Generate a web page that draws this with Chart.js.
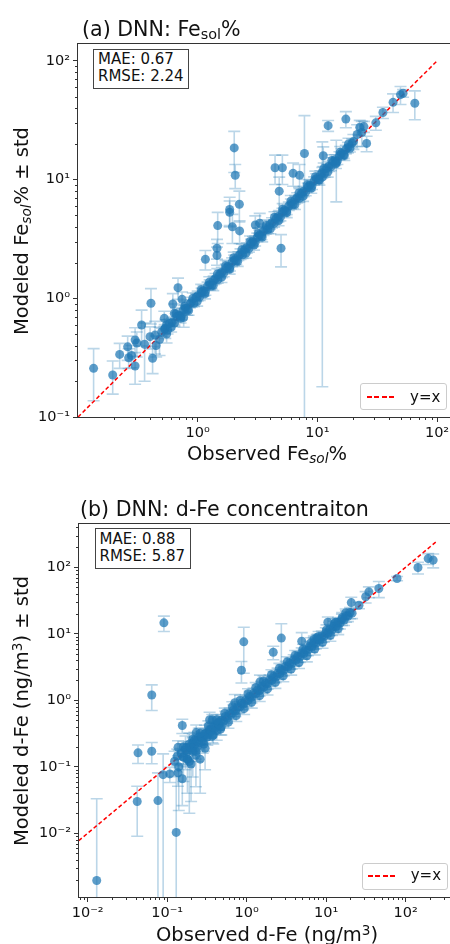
<!DOCTYPE html>
<html>
<head>
<meta charset="utf-8">
<script src="https://cdn.jsdelivr.net/npm/chart.js@4"></script>
<style>
  html, body { margin: 0; padding: 0; width: 450px; height: 944px; overflow: hidden; background: #fff; }
  body { position: relative; font-family: "DejaVu Sans", sans-serif; color: #111; }
  canvas { position: absolute; left: 0; }
  .txt { position: absolute; white-space: nowrap; line-height: 1; }
  .title { font-size: 20.6px; }
  .axis { font-size: 19.5px; }
  .ylab { transform: translate(-50%, -50%) rotate(-90deg); }
  .xlab { transform: translateX(-50%); }
  sub { font-size: 0.7em; vertical-align: -0.2em; line-height: 0; }
  sup { font-size: 0.7em; vertical-align: 0.45em; line-height: 0; }
  .it { font-style: italic; }
  .stats { position: absolute; border: 1px solid #444; background: #fff; font-size: 15px; line-height: 17.3px; padding-left: 4px; box-sizing: border-box; }
  .legend { position: absolute; border: 1px solid #ccc; border-radius: 3px; background: rgba(255,255,255,0.85); box-sizing: border-box; }
  .dash { position: absolute; height: 1.5px; background: repeating-linear-gradient(to right, #ff0000 0 5px, transparent 5px 7.5px); }
  .legtext { position: absolute; font-size: 15px; line-height: 1; }
</style>
</head>
<body>
<canvas id="chartA" width="470" height="480" style="top:0"></canvas>
<canvas id="chartB" width="470" height="464" style="top:480px"></canvas>

<div class="txt title" style="left:82px; top:18.6px">(a) DNN: Fe<sub style="vertical-align:-0.22em">sol</sub>%</div>
<div class="txt axis xlab" style="left:267px; top:443.5px">Observed Fe<sub class="it">sol</sub>%</div>
<div class="txt axis ylab" style="left:22px; top:230.5px">Modeled Fe<sub class="it">sol</sub>% ± std</div>
<div class="stats" style="left:93px; top:49px; width:96px; height:40px; padding-top:1px">MAE: 0.67<br>RMSE: 2.24</div>
<div class="legend" style="left:360px; top:383px; width:87px; height:27px"></div>
<div class="dash" style="left:366.7px; top:396px; width:28.3px"></div>
<div class="legtext" style="left:410px; top:390px">y=x</div>

<div class="txt title" style="left:80px; top:498.6px">(b) DNN: d-Fe concentraiton</div>
<div class="txt axis xlab" style="left:267px; top:925px">Observed d-Fe (ng/m<sup>3</sup>)</div>
<div class="txt axis ylab" style="left:22px; top:710.5px">Modeled d-Fe (ng/m<sup>3</sup>) ± std</div>
<div class="stats" style="left:94.5px; top:528px; width:96.5px; height:41px; padding-top:1.5px">MAE: 0.88<br>RMSE: 5.87</div>
<div class="legend" style="left:361.7px; top:863.3px; width:86.6px; height:26.7px"></div>
<div class="dash" style="left:368.3px; top:875.3px; width:28.4px"></div>
<div class="legtext" style="left:410.7px; top:868.3px">y=x</div>

<script>
// ---- (a) Fe_sol % : scattered points
const obsA_out = [
  0.135, 0.195, 0.223, 0.26, 0.265, 0.28, 0.30, 0.30, 0.31, 0.34,
  0.36, 0.407, 0.42, 0.40, 0.44, 0.45, 0.48, 0.526, 0.536, 0.55,
  0.62, 0.638, 0.685, 0.74, 0.764, 1.16, 1.45, 1.45, 1.47, 1.85,
  1.85, 1.95, 2.02, 2.06, 2.23, 2.24, 3.03, 3.30, 4.43, 5.10,
  4.80, 4.97, 6.27, 7.10, 7.80, 14.4, 11.0, 11.2, 12.3, 17.3,
  20.0, 21.5, 22.6, 23.5, 24.5, 25.8, 30.8, 35.3, 42.9, 49.5,
  52.0, 65.2
];
const modA_out = [
  0.257, 0.226, 0.337, 0.39, 0.316, 0.33, 0.445, 0.269, 0.42, 0.596,
  0.41, 0.908, 0.312, 0.475, 0.49, 0.40, 0.45, 0.678, 0.56, 0.50,
  0.895, 0.747, 1.23, 0.98, 0.69, 2.13, 2.64, 2.30, 4.10, 5.60,
  5.30, 4.00, 18.5, 10.9, 6.2, 3.7, 4.15, 4.30, 12.6, 12.6,
  8.0, 2.64, 11.3, 10.9, 16.6, 14.0, 10.5, 15.9, 28.5, 32.4,
  21.0, 24.0, 27.6, 25.0, 28.0, 20.2, 30.1, 36.8, 44.8, 52.0,
  53.4, 44.0
];
const stdA_out = [
  0.12, 0.07, 0.08, 0.09, 0.06, 0.07, 0.12, 0.08, 0.10, 0.20,
  0.21, 0.30, 0.08, 0.10, 0.15, 0.08, 0.12, 0.10, 0.10, 0.08,
  0.20, 0.15, 0.25, 0.15, 0.12, 0.40, 0.50, 0.40, 1.20, 1.50,
  1.30, 1.10, 7.0, 2.5, 1.8, 0.8, 0.8, 0.9, 3.5, 3.5,
  2.5, 0.8, 2.5, 2.5, 18.0, 7.5, 10.32, 3.0, 3.0, 5.0,
  3.0, 5.0, 4.0, 6.0, 3.0, 3.0, 4.0, 4.0, 8.0, 9.0,
  4.0, 12.0
];
// ---- (a) dense band along the 1:1 line
const obsA_band = [
  0.50, 0.53, 0.56, 0.58, 0.61, 0.64, 0.67, 0.70, 0.73, 0.76,
  0.79, 0.82, 0.86, 0.89, 0.93, 0.97, 1.00, 1.04, 1.08, 1.12,
  1.16, 1.21, 1.26, 1.31, 1.36, 1.41, 1.47, 1.53, 1.59, 1.65,
  1.72, 1.79, 1.86, 1.94, 2.02, 2.10, 2.19, 2.28, 2.37, 2.47,
  2.57, 2.68, 2.79, 2.90, 3.02, 3.15, 3.28, 3.41, 3.55, 3.70,
  3.85, 4.01, 4.18, 4.35, 4.53, 4.72, 4.91, 5.11, 5.32, 5.54,
  5.77, 6.01, 6.26, 6.52, 6.79, 7.07, 7.36, 7.67, 7.99, 8.32,
  8.66, 9.02, 9.39, 9.78, 10.2, 10.6, 11.0, 11.5, 12.0, 12.5,
  13.0, 13.5, 14.1, 14.7, 15.3, 15.9, 16.6, 17.3, 18.0, 18.7,
  19.5,
  0.55, 0.60, 0.66, 0.72, 0.78, 0.84, 0.91, 0.99, 1.07, 1.15,
  1.25, 1.35, 1.46, 1.58, 1.71, 1.85, 2.00, 2.16, 2.34, 2.53,
  2.74, 2.96, 3.20, 3.46, 3.74, 4.05, 4.38, 4.74, 5.13, 5.55,
  6.00, 6.49, 7.02, 7.60, 8.22, 8.89, 9.62, 10.4, 11.3, 12.2,
  13.2, 14.3, 15.5, 16.8, 18.2
];
const modA_band = [
  0.52, 0.55, 0.54, 0.61, 0.63, 0.62, 0.70, 0.72, 0.71, 0.80,
  0.82, 0.80, 0.90, 0.93, 0.91, 1.02, 1.05, 1.03, 1.13, 1.16,
  1.14, 1.27, 1.30, 1.29, 1.42, 1.47, 1.44, 1.60, 1.66, 1.63,
  1.79, 1.86, 1.83, 2.02, 2.10, 2.07, 2.28, 2.37, 2.33, 2.57,
  2.67, 2.63, 2.90, 3.02, 2.97, 3.27, 3.41, 3.36, 3.69, 3.85,
  3.79, 4.17, 4.34, 4.28, 4.71, 4.90, 4.83, 5.31, 5.53, 5.45,
  6.00, 6.25, 6.16, 6.78, 7.06, 6.95, 7.65, 7.97, 7.86, 8.65,
  9.00, 8.87, 9.76, 10.2, 10.0, 11.0, 11.5, 11.3, 12.5, 13.0,
  12.8, 14.1, 14.7, 14.4, 15.9, 16.6, 16.3, 18.0, 18.7, 18.4,
  20.3,
  0.60, 0.57, 0.74, 0.68, 0.86, 0.79, 1.00, 0.94, 1.18, 1.09,
  1.37, 1.28, 1.60, 1.50, 1.88, 1.76, 2.20, 2.05, 2.57, 2.40,
  3.01, 2.81, 3.52, 3.29, 4.11, 3.85, 4.82, 4.50, 5.64, 5.27,
  6.60, 6.17, 7.72, 7.22, 9.04, 8.45, 10.6, 9.9, 12.4, 11.6,
  14.5, 13.6, 17.0, 16.0, 20.0
];
const stdA_band = [
  0.04, 0.05, 0.04, 0.06, 0.05, 0.04, 0.06, 0.07, 0.05, 0.07,
  0.06, 0.08, 0.07, 0.09, 0.06, 0.08, 0.10, 0.07, 0.09, 0.12,
  0.08, 0.10, 0.13, 0.09, 0.12, 0.15, 0.10, 0.13, 0.17, 0.11,
  0.15, 0.19, 0.13, 0.17, 0.21, 0.14, 0.19, 0.24, 0.16, 0.21,
  0.27, 0.18, 0.24, 0.30, 0.21, 0.27, 0.34, 0.24, 0.30, 0.38,
  0.27, 0.34, 0.43, 0.30, 0.38, 0.49, 0.34, 0.43, 0.55, 0.38,
  0.49, 0.62, 0.43, 0.55, 0.70, 0.49, 0.62, 0.80, 0.55, 0.70,
  0.90, 0.62, 0.80, 1.0, 0.70, 0.90, 1.2, 0.80, 1.0, 1.3,
  0.90, 1.2, 1.5, 1.0, 1.3, 1.7, 1.2, 1.5, 1.9, 1.3,
  1.7,
  0.06, 0.05, 0.08, 0.06, 0.09, 0.07, 0.11, 0.08, 0.13, 0.10,
  0.15, 0.12, 0.18, 0.14, 0.21, 0.16, 0.25, 0.19, 0.29, 0.22,
  0.34, 0.26, 0.40, 0.30, 0.47, 0.35, 0.55, 0.41, 0.64, 0.48,
  0.75, 0.56, 0.88, 0.66, 1.0, 0.77, 1.2, 0.90, 1.4, 1.1,
  1.7, 1.2, 2.0, 1.5, 2.3
];

// ---- (b) d-Fe concentration : scattered points
const obsB_out = [
  0.013, 0.042, 0.043, 0.064, 0.064, 0.0766, 0.089, 0.091, 0.108, 0.13,
  0.137, 0.137, 0.134, 0.124, 0.155, 0.155, 0.14, 0.19, 0.232, 0.342,
  0.37, 0.71, 0.86, 0.92, 1.47, 2.16, 2.73, 4.93, 7.0, 7.6,
  10.5, 13.2, 17.6, 20.7, 25.9, 31.4, 34.5, 46.0, 78.0, 143,
  192, 222,
  0.16, 0.17, 0.18, 0.19, 0.20, 0.21, 0.22, 0.23, 0.24, 0.25,
  0.26, 0.28, 0.30, 0.30, 0.32, 0.35, 0.38, 0.40, 0.42, 0.45,
  0.48
];
const modB_out = [
  0.00195, 0.030, 0.162, 0.171, 1.20, 0.031, 0.076, 14.6, 0.078, 0.0103,
  0.081, 0.196, 0.144, 0.121, 0.417, 0.066, 0.10, 0.12, 0.324, 0.51,
  0.51, 0.92, 2.82, 7.55, 1.89, 5.27, 8.6, 7.7, 8.2, 8.7,
  14.9, 14.9, 20.6, 29.4, 26.8, 36.0, 42.7, 47.9, 67.6, 99,
  135, 128,
  0.14, 0.19, 0.13, 0.22, 0.11, 0.17, 0.25, 0.15, 0.20, 0.28,
  0.13, 0.24, 0.32, 0.19, 0.28, 0.36, 0.30, 0.42, 0.35, 0.47,
  0.40
];
const stdB_out = [
  0.031, 0.021, 0.05, 0.06, 0.50, 0.05, 0.08, 3.8, 0.02, 0.075,
  0.03, 0.05, 0.04, 0.05, 0.10, 0.04, 0.078, 0.10, 0.10, 0.15,
  0.10, 0.30, 1.0, 5.0, 0.5, 1.2, 5.5, 2.7, 1.0, 1.0,
  3.0, 2.0, 3.0, 6.0, 3.0, 7.0, 8.0, 13.0, 5.0, 20,
  25, 30,
  0.08, 0.10, 0.09, 0.10, 0.08, 0.10, 0.08, 0.10, 0.08, 0.10,
  0.09, 0.08, 0.10, 0.10, 0.07, 0.09, 0.08, 0.10, 0.10, 0.10,
  0.10
];
// ---- (b) dense band along the 1:1 line
const obsB_band = [
  0.15, 0.16, 0.17, 0.18, 0.19, 0.20, 0.21, 0.22, 0.24, 0.25,
  0.27, 0.28, 0.30, 0.32, 0.34, 0.36, 0.38, 0.40, 0.43, 0.45,
  0.48, 0.51, 0.54, 0.57, 0.61, 0.64, 0.68, 0.72, 0.77, 0.81,
  0.86, 0.91, 0.97, 1.03, 1.09, 1.15, 1.22, 1.29, 1.37, 1.45,
  1.54, 1.63, 1.73, 1.83, 1.94, 2.06, 2.18, 2.31, 2.45, 2.60,
  2.75, 2.92, 3.09, 3.28, 3.47, 3.68, 3.90, 4.14, 4.38, 4.65,
  4.93, 5.22, 5.54, 5.87, 6.22, 6.59, 6.99, 7.41, 7.85, 8.32,
  8.82, 9.35, 9.91, 10.5, 11.1, 11.8, 12.5, 13.3, 14.1, 14.9,
  15.8, 16.8, 17.8, 18.8, 20.0, 21.2,
  0.16, 0.18, 0.21, 0.23, 0.26, 0.29, 0.33, 0.37, 0.42, 0.47,
  0.53, 0.59, 0.66, 0.74, 0.83, 0.93, 1.04, 1.16, 1.30, 1.46,
  1.63, 1.83, 2.05, 2.30, 2.58, 2.89, 3.24, 3.63, 4.07, 4.56,
  5.11, 5.72, 6.41, 7.18, 8.04, 9.00, 10.1, 11.3, 12.7, 14.2,
  15.9
];
const modB_band = [
  0.16, 0.14, 0.18, 0.17, 0.20, 0.19, 0.23, 0.21, 0.25, 0.23,
  0.28, 0.27, 0.31, 0.30, 0.36, 0.34, 0.40, 0.38, 0.45, 0.43,
  0.50, 0.48, 0.57, 0.54, 0.64, 0.61, 0.71, 0.69, 0.80, 0.78,
  0.90, 0.87, 1.01, 0.98, 1.14, 1.10, 1.27, 1.24, 1.43, 1.39,
  1.60, 1.56, 1.80, 1.76, 2.02, 1.98, 2.27, 2.22, 2.55, 2.49,
  2.87, 2.80, 3.22, 3.15, 3.62, 3.54, 4.06, 3.97, 4.57, 4.46,
  5.14, 5.01, 5.77, 5.63, 6.48, 6.33, 7.28, 7.11, 8.18, 7.99,
  9.19, 8.98, 10.3, 10.1, 11.6, 11.3, 13.0, 12.7, 14.7, 14.3,
  16.5, 16.1, 18.5, 18.3, 20.8, 20.4,
  0.20, 0.13, 0.26, 0.17, 0.32, 0.22, 0.41, 0.29, 0.51, 0.37,
  0.64, 0.47, 0.80, 0.59, 1.00, 0.75, 1.25, 0.94, 1.55, 1.18,
  1.94, 1.48, 2.42, 1.86, 3.02, 2.34, 3.78, 2.95, 4.70, 3.70,
  5.85, 4.66, 7.30, 5.90, 9.10, 7.45, 11.4, 9.5, 14.2, 12.0,
  17.5
];
const stdB_band = [
  0.03, 0.03, 0.04, 0.03, 0.04, 0.03, 0.05, 0.04, 0.05, 0.04,
  0.06, 0.05, 0.06, 0.05, 0.07, 0.06, 0.08, 0.07, 0.09, 0.08,
  0.10, 0.08, 0.11, 0.09, 0.12, 0.10, 0.14, 0.12, 0.16, 0.13,
  0.18, 0.15, 0.20, 0.17, 0.22, 0.19, 0.25, 0.21, 0.28, 0.24,
  0.31, 0.27, 0.35, 0.30, 0.39, 0.34, 0.44, 0.38, 0.49, 0.43,
  0.55, 0.48, 0.62, 0.54, 0.70, 0.61, 0.78, 0.68, 0.88, 0.77,
  0.99, 0.86, 1.1, 0.97, 1.2, 1.1, 1.4, 1.2, 1.6, 1.4,
  1.8, 1.5, 2.0, 1.7, 2.2, 1.9, 2.5, 2.2, 2.8, 2.5,
  3.2, 2.8, 3.6, 3.1, 4.0, 3.5,
  0.04, 0.03, 0.05, 0.04, 0.06, 0.05, 0.08, 0.06, 0.10, 0.07,
  0.12, 0.09, 0.15, 0.11, 0.19, 0.14, 0.24, 0.18, 0.29, 0.22,
  0.37, 0.28, 0.46, 0.35, 0.57, 0.44, 0.72, 0.56, 0.89, 0.70,
  1.1, 0.88, 1.4, 1.1, 1.7, 1.4, 2.2, 1.8, 2.7, 2.3,
  3.3
];

// 1:1 reference line end points and decade ticks
const diagA = [0.1, 100];
const diagB = [0.005, 250];
const xTicksA = [1, 10, 100];
const yTicksA = [0.1, 1, 10, 100];
const xTicksB = [0.01, 0.1, 1, 10, 100];
const yTicksB = [0.01, 0.1, 1, 10, 100];

const SUP = { "-": "⁻", "0": "⁰", "1": "¹", "2": "²", "3": "³", "4": "⁴", "5": "⁵", "6": "⁶", "7": "⁷", "8": "⁸", "9": "⁹" };
function powLabel(v) {
  const e = Math.round(Math.log10(v));
  return "10" + String(e).split("").map((c) => SUP[c]).join("");
}

function minorValues(min, max) {
  const out = [];
  for (let k = Math.floor(Math.log10(min)); k <= Math.ceil(Math.log10(max)); k++) {
    for (let m = 2; m <= 9; m++) {
      const v = m * Math.pow(10, k);
      if (v > min && v < max) out.push(v);
    }
  }
  return out;
}

// vertical +/- std bars with caps, drawn under the markers
const errorBars = {
  id: "errorBars",
  beforeDatasetsDraw(chart) {
    const { ctx, chartArea: a, scales: { x, y } } = chart;
    ctx.save();
    ctx.beginPath();
    ctx.rect(a.left, a.top, a.width, a.height);
    ctx.clip();
    ctx.strokeStyle = "rgba(31,119,180,0.3)";
    ctx.lineWidth = 1.6;
    chart.data.datasets.forEach((ds) => {
      if (!ds.errStd) return;
      ds.data.forEach((p, i) => {
        const s = ds.errStd[i];
        const px = x.getPixelForValue(p.x);
        const top = y.getPixelForValue(p.y + s);
        const lo = p.y - s;
        const bot = lo > 0 ? y.getPixelForValue(lo) : a.bottom + 10;
        ctx.beginPath();
        ctx.moveTo(px, top);
        ctx.lineTo(px, bot);
        ctx.moveTo(px - 6, top);
        ctx.lineTo(px + 6, top);
        if (lo > 0) {
          ctx.moveTo(px - 6, bot);
          ctx.lineTo(px + 6, bot);
        }
        ctx.stroke();
      });
    });
    ctx.restore();
  },
};

// box round the axes plus small minor ticks
const frame = {
  id: "frame",
  afterDraw(chart) {
    const { ctx, chartArea: a, scales: { x, y } } = chart;
    ctx.save();
    ctx.strokeStyle = "#333";
    ctx.lineWidth = 1;
    ctx.strokeRect(Math.round(a.left) - 0.5, Math.round(a.top) - 0.5, Math.round(a.width) + 1, Math.round(a.height) + 1);
    ctx.beginPath();
    minorValues(x.min, x.max).forEach((v) => {
      const p = Math.round(x.getPixelForValue(v)) + 0.5;
      ctx.moveTo(p, a.bottom);
      ctx.lineTo(p, a.bottom + 3);
    });
    minorValues(y.min, y.max).forEach((v) => {
      const p = Math.round(y.getPixelForValue(v)) + 0.5;
      ctx.moveTo(a.left, p);
      ctx.lineTo(a.left - 3, p);
    });
    ctx.stroke();
    ctx.restore();
  },
};

function logAxis(min, max, ticks, fit) {
  return {
    type: "logarithmic",
    min,
    max,
    afterBuildTicks: (s) => {
      s.ticks = ticks.map((v) => ({ value: v }));
    },
    afterFit: fit,
    ticks: {
      callback: (v) => powLabel(v),
      color: "#111",
      font: { family: "DejaVu Sans", size: 14.5 },
      padding: 3,
      autoSkip: false,
      maxRotation: 0,
    },
    grid: { drawOnChartArea: false, tickLength: 5, tickColor: "#333" },
    border: { display: false },
  };
}

function makeChart(id, o) {
  const pts = o.obs.map((x, i) => ({ x, y: o.mod[i] }));
  return new Chart(document.getElementById(id), {
    type: "scatter",
    data: {
      datasets: [
        {
          label: "DNN",
          data: pts,
          errStd: o.std,
          backgroundColor: "rgba(31,119,180,0.72)",
          borderWidth: 0,
          pointRadius: 4.5,
          order: 1,
        },
        {
          label: "y=x",
          data: o.diag.map((v) => ({ x: v, y: v })),
          showLine: true,
          borderColor: "#ff0000",
          borderWidth: 1.5,
          borderDash: [4, 2.5],
          pointRadius: 0,
          order: 2,
        },
      ],
    },
    options: {
      responsive: false,
      animation: false,
      events: [],
      layout: { padding: { top: 44, right: 14, left: 0, bottom: 0 } },
      plugins: { legend: { display: false }, tooltip: { enabled: false } },
      scales: {
        x: logAxis(o.xMin, o.xMax, o.xTicks, (s) => { s.height = o.xAxisH; }),
        y: logAxis(o.yMin, o.yMax, o.yTicks, (s) => { s.width = o.yAxisW; }),
      },
    },
    plugins: [errorBars, frame],
  });
}

makeChart("chartA", {
  obs: obsA_out.concat(obsA_band),
  mod: modA_out.concat(modA_band),
  std: stdA_out.concat(stdA_band),
  diag: diagA,
  xMin: 0.1, xMax: 144, yMin: 0.1, yMax: 139,
  xTicks: xTicksA, yTicks: yTicksA,
  xAxisH: 63, yAxisW: 78,
});

makeChart("chartB", {
  obs: obsB_out.concat(obsB_band),
  mod: modB_out.concat(modB_band),
  std: stdB_out.concat(stdB_band),
  diag: diagB,
  xMin: 0.00778, xMax: 430, yMin: 0.0011, yMax: 447,
  xTicks: xTicksB, yTicks: yTicksB,
  xAxisH: 47, yAxisW: 79,
});
</script>
</body>
</html>
